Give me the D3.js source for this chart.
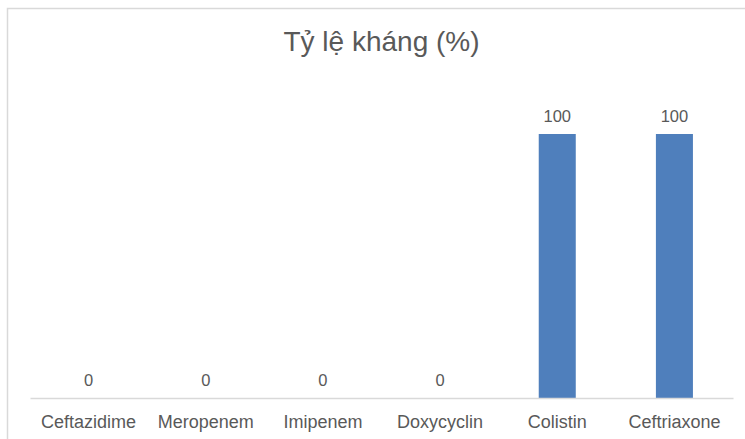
<!DOCTYPE html>
<html>
<head>
<meta charset="utf-8">
<script src="https://cdn.jsdelivr.net/npm/d3@7/dist/d3.min.js"></script>
<style>
  html, body { margin: 0; padding: 0; background: #ffffff; }
  svg { display: block; }
  text { font-family: "Liberation Sans", Arial, sans-serif; fill: #595959; }
</style>
</head>
<body>
<svg id="chart" width="745" height="439"></svg>
<script>
// Resistance rate (%) per antibiotic
const title = "Tỷ lệ kháng (%)";
const categories = ["Ceftazidime", "Meropenem", "Imipenem", "Doxycyclin", "Colistin", "Ceftriaxone"];
const values = [0, 0, 0, 0, 100, 100];
const yDomain = [0, 100];

const width = 745, height = 439;
const margin = { top: 134, right: 12, bottom: 41, left: 30 };

const svg = d3.select("#chart");

// Chart area frame (top and left edges visible)
svg.append("path")
  .attr("d", `M7.5,${height} V8.5 H${width}`)
  .attr("fill", "none")
  .attr("stroke", "#d9d9d9")
  .attr("stroke-width", 1.5);

const x = d3.scaleBand()
  .domain(categories)
  .range([margin.left, width - margin.right])
  .paddingInner(0.684)
  .paddingOuter(0.342);

const y = d3.scaleLinear()
  .domain(yDomain)
  .range([height - margin.bottom, margin.top]);

// Title
svg.append("text")
  .attr("x", (margin.left + width - margin.right) / 2)
  .attr("y", 51)
  .attr("text-anchor", "middle")
  .style("font-size", "28px")
  .text(title);

// Bars
svg.append("g")
  .selectAll("rect")
  .data(values)
  .join("rect")
  .attr("x", (d, i) => x(categories[i]))
  .attr("y", d => y(d))
  .attr("width", x.bandwidth())
  .attr("height", d => y(0) - y(d))
  .attr("fill", "#4f7fbc");

// Value labels
svg.append("g")
  .selectAll("text")
  .data(values)
  .join("text")
  .attr("x", (d, i) => x(categories[i]) + x.bandwidth() / 2)
  .attr("y", d => y(d) - 12)
  .attr("text-anchor", "middle")
  .style("font-size", "16.5px")
  .text(d => d);

// Category axis
const xAxis = d3.axisBottom(x).tickSize(0).tickPadding(17);
const gx = svg.append("g")
  .attr("transform", `translate(0,${y(0)})`)
  .call(xAxis);
gx.select(".domain")
  .attr("stroke", "#d9d9d9")
  .attr("stroke-width", 1.5);
gx.selectAll(".tick text")
  .attr("fill", "#595959")
  .style("font-family", "'Liberation Sans', Arial, sans-serif")
  .style("font-size", "18px");
</script>
</body>
</html>
